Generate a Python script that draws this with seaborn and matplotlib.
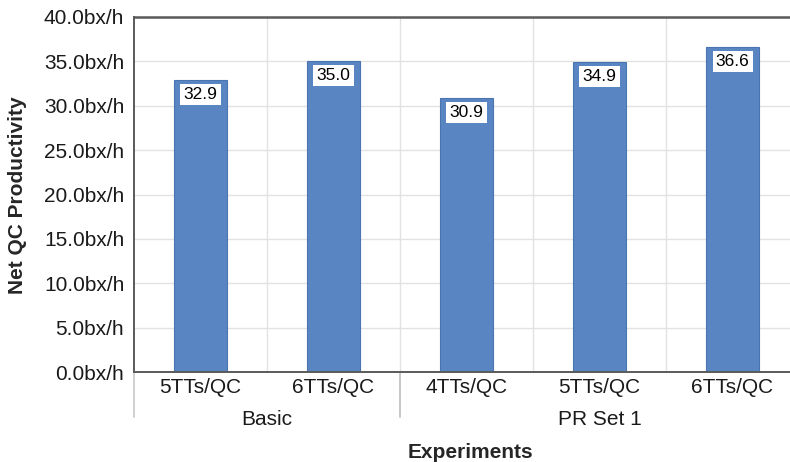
import matplotlib
matplotlib.use("Agg")
import matplotlib.pyplot as plt
import seaborn as sns
import pandas as pd

groups = ["Basic", "Basic", "PR Set 1", "PR Set 1", "PR Set 1"]
categories = ["5TTs/QC", "6TTs/QC", "4TTs/QC", "5TTs/QC", "6TTs/QC"]
values = [32.9, 35.0, 30.9, 34.9, 36.6]
yticks = [0, 5, 10, 15, 20, 25, 30, 35, 40]

df = pd.DataFrame({
    "key": [f"{g}|{c}" for g, c in zip(groups, categories)],
    "value": values,
})

sns.set_theme(style="white")
plt.rcParams["font.family"] = ["Liberation Sans", "DejaVu Sans"]

fig = plt.figure(figsize=(7.9, 4.62), dpi=100)
ax = fig.add_axes([134 / 790, 1 - 372 / 462, 665 / 790, 355 / 462])

sns.barplot(data=df, x="key", y="value", ax=ax, color="#5985C2",
            width=0.4, edgecolor="#4A74B0", linewidth=0.8, saturation=1)

ax.set_xlim(-0.5, len(values) - 0.5)
ax.set_ylim(0, 40)
ax.set_yticks(yticks)
ax.set_yticklabels([f"{t:.1f}bx/h" for t in yticks], fontsize=15, color="#1a1a1a")
ax.set_xticks(range(len(categories)))
ax.set_xticklabels(categories, fontsize=15, color="#1a1a1a")
ax.tick_params(axis="both", length=0)
ax.tick_params(axis="y", pad=7)
ax.tick_params(axis="x", pad=4)

# grid
ax.set_axisbelow(True)
for t in yticks[1:]:
    ax.axhline(t, color="#E2E2E2", lw=1, zorder=0)
for b in range(len(values) - 1):
    ax.axvline(b + 0.5, color="#E2E2E2", lw=1, zorder=0)

for side in ["left", "bottom", "top"]:
    ax.spines[side].set_color("#5a5a5a")
    ax.spines[side].set_linewidth(1.4)
ax.spines["top"].set_linewidth(1.8)
ax.spines["right"].set_visible(False)

# value labels
for p, v in zip(ax.patches, values):
    ax.annotate(f"{v:.1f}", xy=(p.get_x() + p.get_width() / 2, p.get_height()),
                xytext=(0, -5), textcoords="offset points", ha="center", va="top",
                fontsize=12.5, color="black",
                bbox=dict(facecolor="white", edgecolor="none", pad=2.3))

# group labels and separators
tr = ax.get_xaxis_transform()
uniq = []
for g in groups:
    if g not in uniq:
        uniq.append(g)
for g in uniq:
    idx = [i for i, gg in enumerate(groups) if gg == g]
    start, end = idx[0] - 0.5, idx[-1] + 0.5
    ax.text((start + end) / 2, -0.135, g, transform=tr, ha="center", va="center",
            fontsize=15, color="#1a1a1a")
    for xb in (start, end):
        ax.plot([xb, xb], [0, -0.128], transform=tr, color="#C8C8C8", lw=1.2,
                clip_on=False)

ax.set_xlabel("")
ax.set_ylabel("")
fig.text(470 / 790, 1 - 452 / 462, "Experiments", ha="center", va="center",
         fontsize=15, fontweight="bold")
fig.text(18 / 790, 1 - 195 / 462, "Net QC Productivity", ha="center", va="center",
         rotation=90, fontsize=15, fontweight="bold")

fig.savefig("out.png", dpi=100)
